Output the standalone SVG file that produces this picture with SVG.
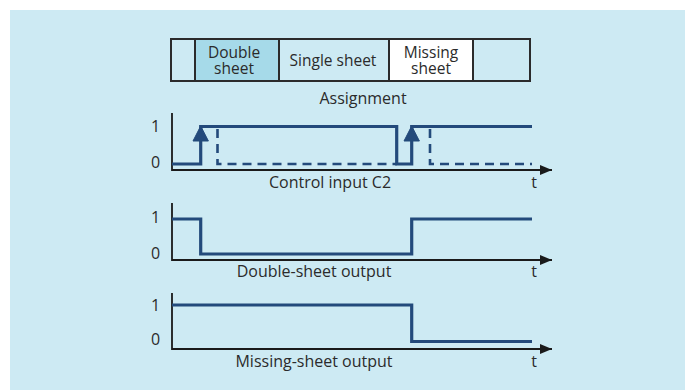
<svg xmlns="http://www.w3.org/2000/svg" width="685" height="390" viewBox="0 0 685 390">
<style>
text{font-family:"Open Sans","Noto Sans","Liberation Sans",sans-serif;font-size:16px;fill:#2b2b2b}
.c{text-anchor:middle}
.s{font-size:15.5px}
.cell{stroke:#2b2b2b;stroke-width:2}
.axis{stroke:#1a1a1a;stroke-width:1.8;fill:none}
.sig{stroke:#234a7b;stroke-width:3.2;fill:none;stroke-linejoin:miter}
.dash{stroke:#234a7b;stroke-width:2.6;fill:none;stroke-dasharray:9 6}
</style>
<defs>
<marker id="ax" viewBox="0 0 12 10" refX="12" refY="5" markerWidth="12" markerHeight="10" markerUnits="userSpaceOnUse" orient="auto"><path d="M0,0 L12,5 L0,10 Z" fill="#1a1a1a"/></marker>
</defs>
<rect x="10" y="10" width="675" height="380" fill="#cdeaf3"/>
<g id="assignment">
<rect class="cell" x="171" y="39" width="359" height="42" fill="#cdeaf3"/>
<rect class="cell" x="195" y="39" width="84" height="42" fill="#a6dae9"/>
<rect class="cell" x="389" y="39" width="84" height="42" fill="#ffffff"/>
<text class="c s" x="234" y="57.5">Double</text>
<text class="c s" x="234" y="74">sheet</text>
<text class="c s" x="333" y="66">Single sheet</text>
<text class="c s" x="431" y="57.5">Missing</text>
<text class="c s" x="431" y="74">sheet</text>
<text class="c" x="363" y="104">Assignment</text>
</g>
<g id="connectors">
<path class="axis" d="M172,113 V170 H552" marker-end="url(#ax)"/>
<path class="axis" d="M172,203 V260 H552" marker-end="url(#ax)"/>
<path class="axis" d="M172,293 V349 H552" marker-end="url(#ax)"/>
</g>
<g id="chart-c2">
<text x="151" y="132">1</text>
<text x="151" y="168">0</text>
<path class="dash" d="M217.5,129 V164 H397"/>
<path class="dash" d="M430,129 V164 H532"/>
<path class="sig" d="M172,164 H200.7 V126.5 H396.7 V164 H411.7 V126.5 H532"/>
<path d="M193,141 L200.7,126 L208.4,141 Z" fill="#234a7b" stroke="#234a7b" stroke-width="1" stroke-linejoin="round"/>
<path d="M404,141 L411.7,126 L419.4,141 Z" fill="#234a7b" stroke="#234a7b" stroke-width="1" stroke-linejoin="round"/>
<text class="c" x="330" y="188">Control input C2</text>
<text class="c" x="534" y="188">t</text>
</g>
<g id="chart-double">
<text x="151" y="223">1</text>
<text x="151" y="259">0</text>
<path class="sig" d="M172,219 H200.7 V254 H411.7 V219 H532"/>
<text class="c" x="314" y="277">Double-sheet output</text>
<text class="c" x="534" y="277">t</text>
</g>
<g id="chart-missing">
<text x="151" y="311">1</text>
<text x="151" y="345">0</text>
<path class="sig" d="M172,305 H411.7 V341.5 H532"/>
<text class="c" x="314" y="367">Missing-sheet output</text>
<text class="c" x="534" y="367">t</text>
</g>
</svg>
